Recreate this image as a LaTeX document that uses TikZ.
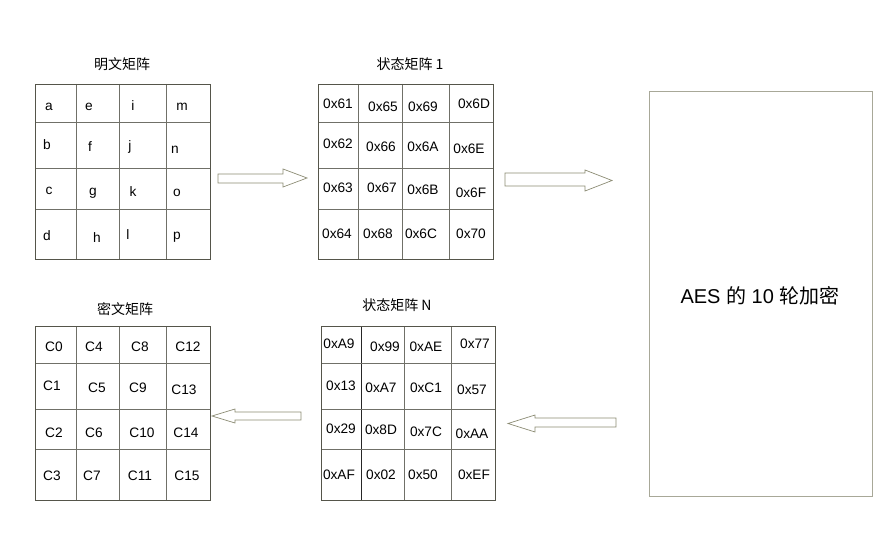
\documentclass[tikz,border=0pt]{standalone}
\usepackage{fontspec}
\setmainfont{Liberation Sans}
\newfontfamily\cjk{Noto Sans CJK SC}
\definecolor{gridline}{HTML}{707068}
\definecolor{gridframe}{HTML}{55554A}
\definecolor{boxline}{HTML}{A8A898}
\definecolor{arrowline}{HTML}{8C8C74}
\begin{document}
\begin{tikzpicture}[x=1bp,y=-1bp,
  cell/.style={anchor=base,inner sep=0pt,font=\fontsize{13.7bp}{16bp}\selectfont},
  title/.style={anchor=center,inner sep=0pt,font=\fontsize{14bp}{16bp}\selectfont\cjk},
  frame/.style={draw=gridframe,line width=0.9pt},
  inner/.style={draw=gridline,line width=0.8pt},
  blockarrow/.style={draw=arrowline,fill=white,line width=0.7pt,line join=miter},
  bigbox/.style={draw=boxline,line width=1pt,fill=white}]
\useasboundingbox (0,0) rectangle (882,540);
\fill[white] (0,0) rectangle (882,540);

% ---- plaintext matrix ----
\node[title] (t1) at (122,64) {明文矩阵};
\foreach \x in {76,119,166} \draw[inner] (\x,84) -- (\x,259);
\foreach \y in {122,168,209} \draw[inner] (35,\y) -- (210,\y);
\draw[frame] (35,84) rectangle (210,259);
\node[cell] (p00) at (49,110.5) {a};
\node[cell] (p01) at (89,110.5) {e};
\node[cell] (p02) at (133,110.5) {i};
\node[cell] (p03) at (182,110.5) {m};
\node[cell] (p10) at (47,150) {b};
\node[cell] (p11) at (90,152) {f};
\node[cell] (p12) at (130,150.5) {j};
\node[cell] (p13) at (175,153.5) {n};
\node[cell] (p20) at (49,195) {c};
\node[cell] (p21) at (93,195.5) {g};
\node[cell] (p22) at (133,197) {k};
\node[cell] (p23) at (177,196.5) {o};
\node[cell] (p30) at (47,241) {d};
\node[cell] (p31) at (97,243) {h};
\node[cell] (p32) at (128,240) {l};
\node[cell] (p33) at (177,240) {p};

% ---- state matrix 1 ----
\node[title] (t2) at (410,64) {状态矩阵 1};
\foreach \x in {358,402,449} \draw[inner] (\x,84) -- (\x,259);
\foreach \y in {122,168,209} \draw[inner] (318,\y) -- (493,\y);
\draw[frame] (318,84) rectangle (493,259);
\node[cell] (s00) at (338,108.5) {0x61};
\node[cell] (s01) at (383,112) {0x65};
\node[cell] (s02) at (423,112) {0x69};
\node[cell] (s03) at (474,108.5) {0x6D};
\node[cell] (s10) at (338,149) {0x62};
\node[cell] (s11) at (381,152) {0x66};
\node[cell] (s12) at (423,152) {0x6A};
\node[cell] (s13) at (469,154) {0x6E};
\node[cell] (s20) at (338,193) {0x63};
\node[cell] (s21) at (382,193) {0x67};
\node[cell] (s22) at (423,195) {0x6B};
\node[cell] (s23) at (471,198) {0x6F};
\node[cell] (s30) at (337,239) {0x64};
\node[cell] (s31) at (378,239) {0x68};
\node[cell] (s32) at (421,239) {0x6C};
\node[cell] (s33) at (471,239) {0x70};

% ---- ciphertext matrix ----
\node[title] (t3) at (125,309) {密文矩阵};
\foreach \x in {76,119,166} \draw[inner] (\x,326) -- (\x,500);
\foreach \y in {363,409,449} \draw[inner] (35,\y) -- (210,\y);
\draw[frame] (35,326) rectangle (210,500);
\node[cell] (c00) at (54,352) {C0};
\node[cell] (c01) at (94,352) {C4};
\node[cell] (c02) at (140,352) {C8};
\node[cell] (c03) at (188,352) {C12};
\node[cell] (c10) at (52,390) {C1};
\node[cell] (c11) at (97,392) {C5};
\node[cell] (c12) at (138,392) {C9};
\node[cell] (c13) at (184,394) {C13};
\node[cell] (c20) at (54,437) {C2};
\node[cell] (c21) at (94,437) {C6};
\node[cell] (c22) at (142,437) {C10};
\node[cell] (c23) at (186,437) {C14};
\node[cell] (c30) at (52,480) {C3};
\node[cell] (c31) at (92,480) {C7};
\node[cell] (c32) at (140,480) {C11};
\node[cell] (c33) at (187,480) {C15};

% ---- state matrix N ----
\node[title] (t4) at (397,305) {状态矩阵 N};
\foreach \x in {404,451} \draw[inner] (\x,326) -- (\x,500);
\draw[draw=black!85,line width=0.8pt] (361,326) -- (361,500);
\foreach \y in {363,409,449} \draw[inner] (321,\y) -- (495,\y);
\draw[frame] (321,326) rectangle (495,500);
\node[cell] (n00) at (339,349) {0xA9};
\node[cell] (n01) at (385,352) {0x99};
\node[cell] (n02) at (426,352) {0xAE};
\node[cell] (n03) at (475,349) {0x77};
\node[cell] (n10) at (341,390) {0x13};
\node[cell] (n11) at (381,392) {0xA7};
\node[cell] (n12) at (426,392) {0xC1};
\node[cell] (n13) at (472,394) {0x57};
\node[cell] (n20) at (341,433) {0x29};
\node[cell] (n21) at (381,434) {0x8D};
\node[cell] (n22) at (426,436) {0x7C};
\node[cell] (n23) at (472,438) {0xAA};
\node[cell] (n30) at (339,479) {0xAF};
\node[cell] (n31) at (381,479) {0x02};
\node[cell] (n32) at (423,479) {0x50};
\node[cell] (n33) at (474,479) {0xEF};

% ---- AES rounds box ----
\draw[bigbox] (649,92) rectangle (872,496);
\node[anchor=center,inner sep=0pt,font=\fontsize{20bp}{24bp}\selectfont] (aes) at (760,296)
  {AES {\cjk 的} 10 {\cjk 轮加密}};

% ---- block arrows ----
\draw[blockarrow] (218,174) -- (283,174) -- (283,169) -- (307,178) -- (283,187) -- (283,183) -- (218,183) -- cycle;
\draw[blockarrow] (505,173) -- (585,173) -- (585,170) -- (612,180.5) -- (585,191) -- (585,186) -- (505,186) -- cycle;
\draw[blockarrow] (301,412) -- (235,412) -- (235,409) -- (212,416) -- (235,423) -- (235,420) -- (301,420) -- cycle;
\draw[blockarrow] (616,418) -- (535,418) -- (535,415) -- (508,423.5) -- (535,432) -- (535,427) -- (616,427) -- cycle;
\end{tikzpicture}
\end{document}
